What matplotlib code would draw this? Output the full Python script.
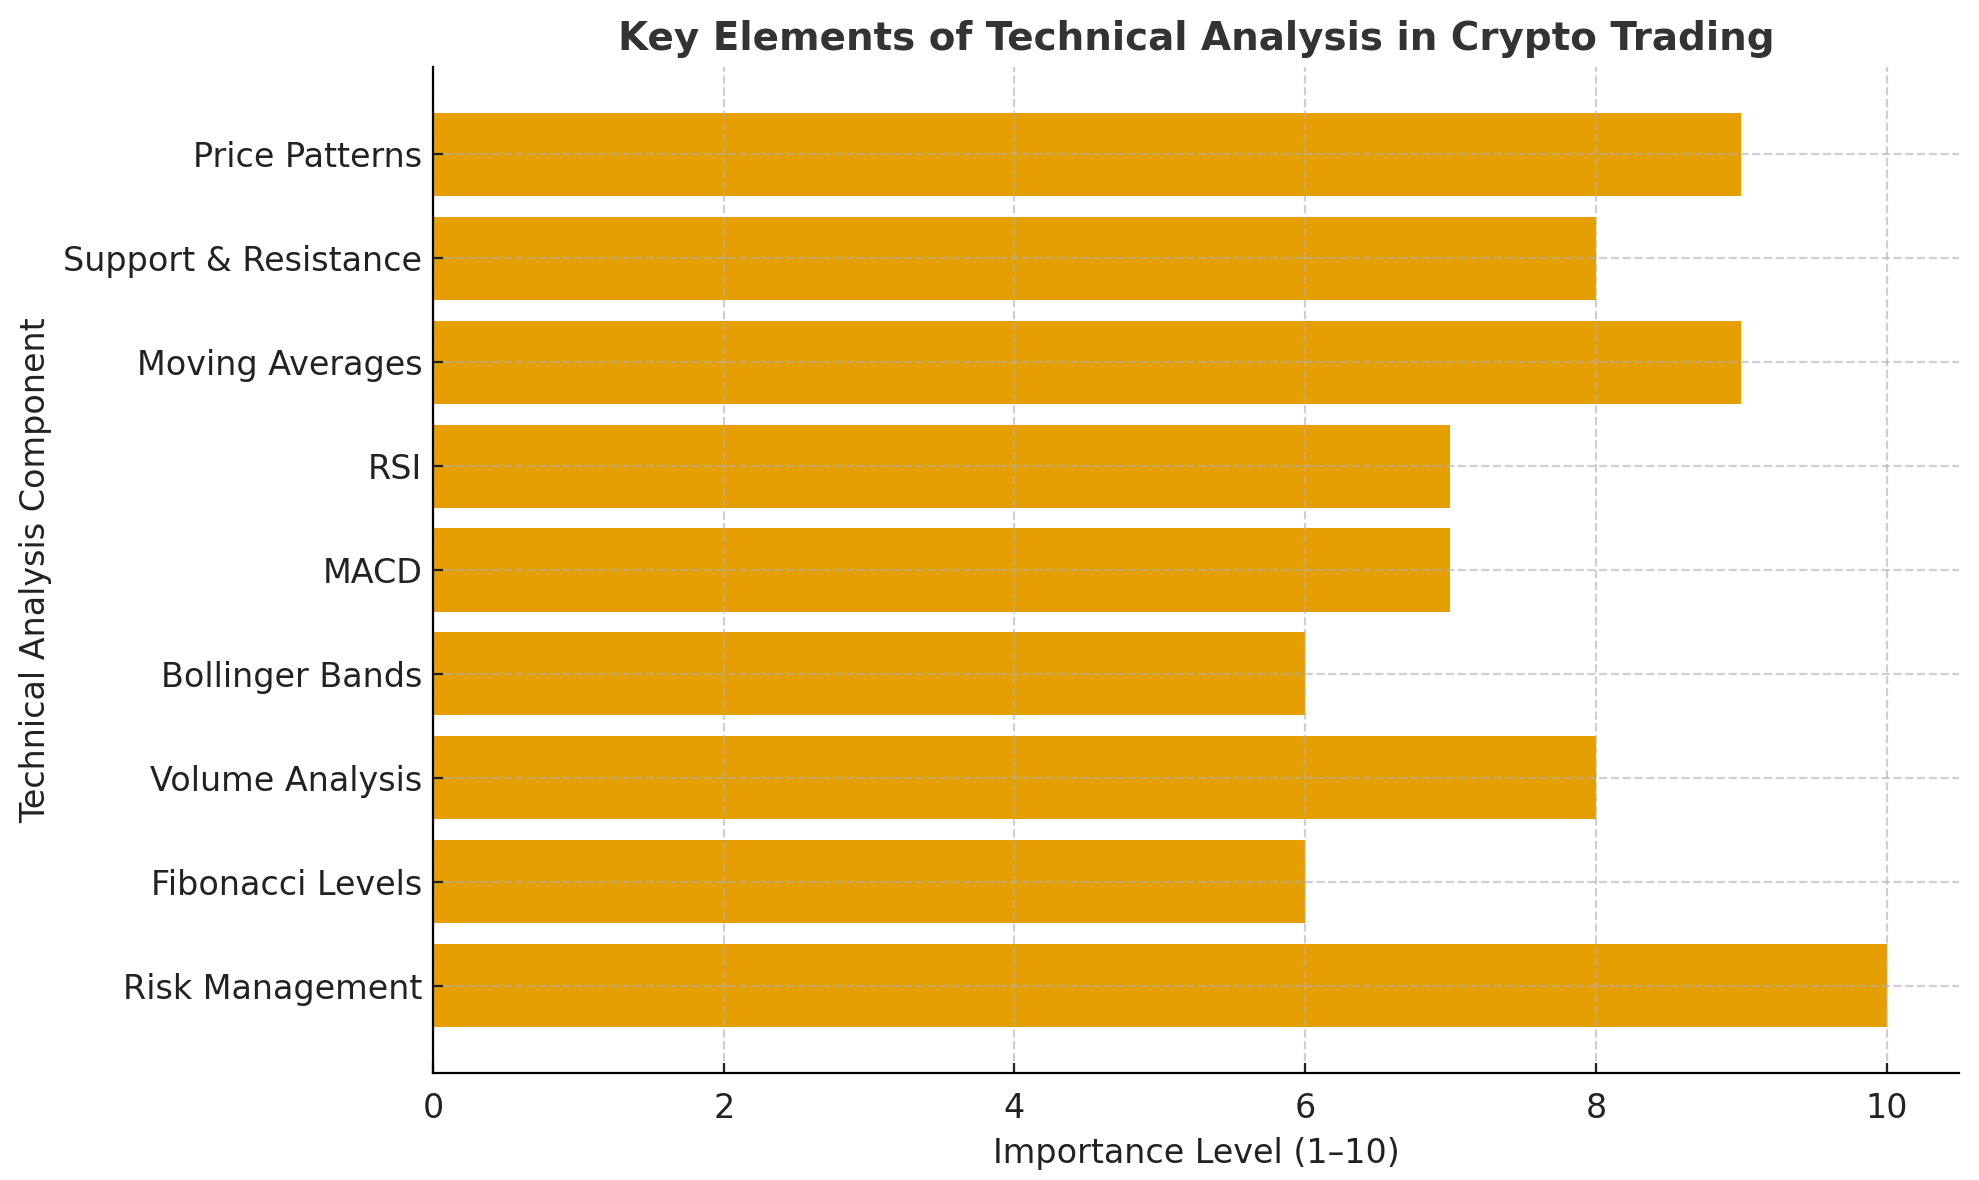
import matplotlib
matplotlib.use("Agg")
import matplotlib.pyplot as plt

# components from bottom to top, as they appear on the chart
components = ["Risk Management", "Fibonacci Levels", "Volume Analysis",
              "Bollinger Bands", "MACD", "RSI", "Moving Averages",
              "Support & Resistance", "Price Patterns"]
importance = [10, 6, 8, 6, 7, 7, 9, 8, 9]

fig = plt.figure(figsize=(9.895, 5.9), dpi=200)
ax = fig.add_axes([0.2188, 0.0907, 0.7712, 0.8525])

ax.barh(components, importance, color="#E69F00", height=0.8)

ax.set_axisbelow(False)
ax.grid(True, linestyle="--", color="#b0b0b0", alpha=0.6, linewidth=0.8)

ax.spines["top"].set_visible(False)
ax.spines["right"].set_visible(False)
ax.spines["left"].set_zorder(3)
ax.spines["bottom"].set_zorder(3)

ax.tick_params(labelsize=12, colors="#222222", direction="in")
ax.tick_params(axis="x", pad=7)
ax.tick_params(axis="y", pad=3.8)
ax.set_xlabel("Importance Level (1\u201310)", fontsize=12, color="#222222")
ax.set_ylabel("Technical Analysis Component", fontsize=12, color="#222222")
ax.set_title("Key Elements of Technical Analysis in Crypto Trading",
             fontsize=14, fontweight="bold", color="#333333")

fig.savefig("out.png", dpi=200)
